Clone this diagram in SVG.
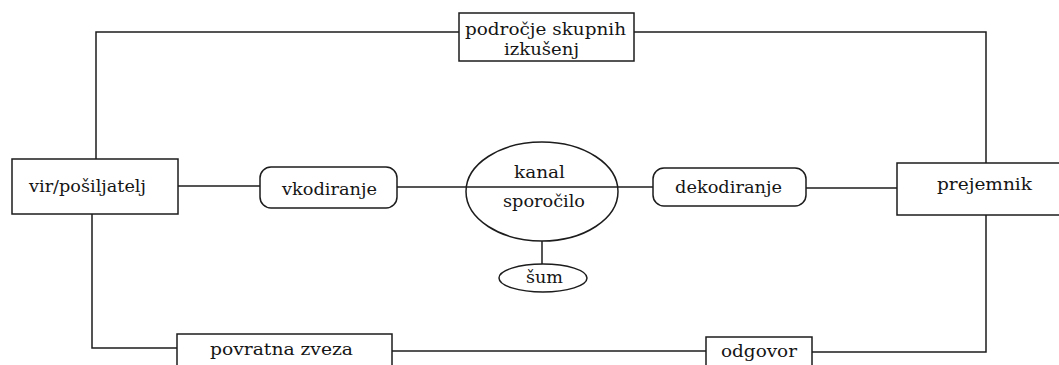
<svg xmlns="http://www.w3.org/2000/svg" width="1059" height="365" viewBox="0 0 1059 365">
  <style>
    .bg { fill: #ffffff; }
    .shape { fill: #ffffff; stroke: #1c1c1c; stroke-width: 1.5; }
    .wire { fill: none; stroke: #1c1c1c; stroke-width: 1.5; }
    .label { font-family: "DejaVu Serif", "Liberation Serif", serif; font-size: 16px; fill: #151515; }
  </style>
  <rect class="bg" x="0" y="0" width="1059" height="365"/>

  <!-- connectors -->
  <g id="connectors">
    <polyline class="wire" points="96,159 96,32 459,32"/>
    <polyline class="wire" points="634,32 986,32 986,163"/>
    <line class="wire" x1="178" y1="186" x2="260" y2="186"/>
    <line class="wire" x1="397" y1="187" x2="653" y2="187"/>
    <line class="wire" x1="806" y1="188" x2="897" y2="188"/>
    <line class="wire" x1="542" y1="241" x2="542" y2="264"/>
    <polyline class="wire" points="92,214 92,348 177,348"/>
    <line class="wire" x1="392" y1="351" x2="706" y2="351"/>
    <polyline class="wire" points="812,352 986,352 986,215"/>
  </g>

  <g id="izkusnje">
    <rect class="shape" x="459" y="13" width="175" height="48"/>
    <text class="label" x="465" y="35" textLength="161" lengthAdjust="spacingAndGlyphs">področje skupnih</text>
    <text class="label" x="504" y="55" textLength="75" lengthAdjust="spacingAndGlyphs">izkušenj</text>
  </g>

  <g id="vir">
    <rect class="shape" x="12" y="159" width="166" height="55"/>
    <text class="label" x="29" y="192" textLength="117" lengthAdjust="spacingAndGlyphs">vir/pošiljatelj</text>
  </g>

  <g id="vkodiranje">
    <rect class="shape" x="260" y="167" width="137" height="41" rx="11" ry="11"/>
    <text class="label" x="282" y="195" textLength="95" lengthAdjust="spacingAndGlyphs">vkodiranje</text>
  </g>

  <g id="kanal">
    <ellipse class="shape" cx="542" cy="191.5" rx="76" ry="49.5" style="fill:none"/>
    <text class="label" x="514" y="178" textLength="51" lengthAdjust="spacingAndGlyphs">kanal</text>
    <text class="label" x="503" y="207" textLength="82" lengthAdjust="spacingAndGlyphs">sporočilo</text>
  </g>

  <g id="sum">
    <ellipse class="shape" cx="543" cy="278" rx="44" ry="14"/>
    <text class="label" x="526" y="283" textLength="37" lengthAdjust="spacingAndGlyphs">šum</text>
  </g>

  <g id="dekodiranje">
    <rect class="shape" x="653" y="168" width="153" height="38" rx="11" ry="11"/>
    <text class="label" x="675" y="193" textLength="107" lengthAdjust="spacingAndGlyphs">dekodiranje</text>
  </g>

  <g id="prejemnik">
    <rect class="shape" x="897" y="163" width="170" height="52"/>
    <text class="label" x="937" y="190" textLength="95" lengthAdjust="spacingAndGlyphs">prejemnik</text>
  </g>

  <g id="povratna-zveza">
    <rect class="shape" x="177" y="334" width="215" height="40"/>
    <text class="label" x="210" y="355" textLength="143" lengthAdjust="spacingAndGlyphs">povratna zveza</text>
  </g>

  <g id="odgovor">
    <rect class="shape" x="706" y="337" width="106" height="40"/>
    <text class="label" x="721" y="357" textLength="76" lengthAdjust="spacingAndGlyphs">odgovor</text>
  </g>
</svg>
